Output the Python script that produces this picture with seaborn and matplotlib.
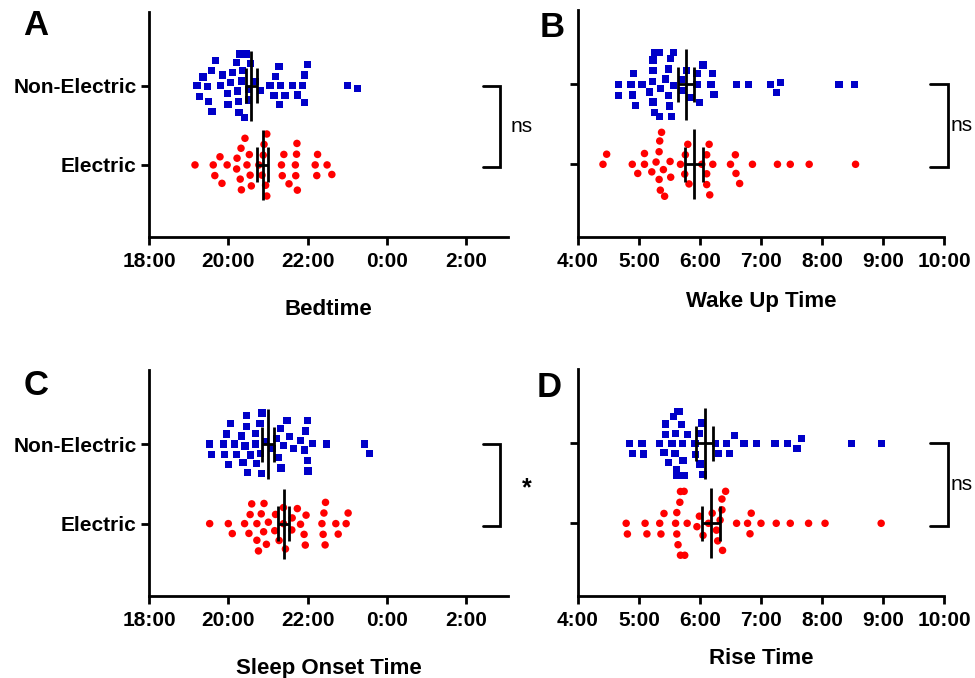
import matplotlib
matplotlib.use('Agg')
import numpy as np
import pandas as pd
import matplotlib.pyplot as plt
import matplotlib.transforms as mtransforms
from matplotlib.ticker import FuncFormatter
import seaborn as sns

# DONNÉES (heures décimales)
# =============================================
groups = ['Non-Electric', 'Electric']

bed_ne = [20.51, 20.25, 20.40, 19.67, 20.20, 19.99, 19.27, 19.57, 20.06, 20.33, 21.19,
          21.43, 22.00, 19.85, 20.56, 21.29, 21.61, 21.92, 19.21, 19.48, 20.29, 20.82,
          21.05, 23.00, 23.25, 19.81, 20.10, 20.68, 21.28, 21.74, 19.36, 20.36, 21.15,
          21.87, 19.50, 19.98, 20.23, 21.32, 20.45, 21.92, 19.59, 20.27, 20.50]
bed_el = [20.97, 20.33, 20.90, 20.30, 20.58, 21.53, 21.74, 19.79, 19.97, 20.21, 20.53,
          20.77, 21.36, 21.72, 22.23, 22.49, 19.16, 19.62, 20.22, 20.47, 19.84, 21.34,
          21.69, 22.19, 22.61, 19.66, 21.70, 22.25, 20.32, 20.55, 21.40, 20.85, 21.73,
          20.42, 20.94, 20.97, 20.88]

wake_ne = [5.35, 5.57, 5.33, 5.52, 5.26, 4.91, 5.50, 6.05, 5.78, 5.23, 6.23, 5.17, 4.67,
           4.87, 5.48, 5.70, 5.95, 7.26, 5.23, 6.18, 6.60, 6.79, 7.32, 8.28, 8.53, 4.67,
           4.89, 5.05, 5.43, 5.71, 5.95, 7.15, 5.23, 6.21, 4.94, 5.49, 5.84, 5.99, 5.22,
           5.53, 5.26, 5.56, 5.33]
wake_el = [5.40, 5.35, 6.15, 5.33, 5.82, 6.11, 5.09, 4.47, 4.89, 5.28, 5.52, 5.76, 6.03,
           6.59, 4.41, 4.98, 5.09, 5.33, 5.51, 5.68, 6.11, 6.21, 6.50, 6.65, 6.86, 7.27,
           7.48, 7.79, 8.55, 5.21, 5.34, 5.75, 6.11, 6.58, 5.80, 6.16, 5.37, 5.42]

onset_ne = [20.83, 20.05, 20.55, 20.80, 21.33, 22.01, 20.37, 21.99, 19.96, 20.46, 20.68,
            21.26, 21.65, 19.57, 20.20, 20.93, 21.92, 23.43, 19.87, 20.42, 20.68, 21.21,
            21.48, 22.13, 22.47, 19.52, 20.16, 21.12, 21.81, 23.56, 19.90, 20.46, 20.71,
            21.32, 21.54, 20.33, 21.95, 20.01, 20.49, 20.81, 21.40, 21.99, 20.85]
onset_el = [20.89, 20.76, 21.61, 22.45, 20.59, 21.39, 21.91, 20.72, 21.01, 22.41, 22.97,
            20.00, 20.52, 21.19, 21.74, 22.77, 19.53, 20.96, 21.96, 22.36, 20.10, 20.41,
            20.72, 21.28, 21.82, 22.71, 23.02, 21.17, 21.44, 22.39, 20.55, 20.83, 21.39,
            21.94, 21.60, 22.44, 20.90]

rise_ne = [5.72, 5.61, 5.70, 5.60, 5.44, 5.64, 5.56, 5.93, 6.03, 6.30, 6.49, 4.89, 5.05,
           5.41, 6.00, 7.59, 5.48, 5.63, 5.80, 6.44, 6.72, 6.93, 7.23, 7.66, 8.49, 8.97,
           4.85, 5.08, 5.33, 5.99, 7.44, 5.92, 5.54, 6.25, 6.56, 5.43, 5.66, 5.59, 5.71,
           5.61, 5.74, 6.05]
rise_el = [5.68, 5.67, 5.74, 6.42, 5.36, 5.62, 6.05, 6.29, 6.36, 6.84, 4.81, 5.10, 5.34,
           5.60, 5.75, 5.95, 6.20, 6.60, 6.78, 7.00, 7.25, 7.48, 7.78, 8.05, 8.97, 4.79,
           5.13, 5.41, 5.62, 5.79, 5.99, 6.14, 6.33, 6.82, 5.64, 6.27, 6.36, 6.37, 5.68]

bed_mean, bed_sem = [20.58, 20.87], [0.14, 0.14]
wake_mean, wake_sem = [5.77, 5.90], [0.135, 0.145]
onset_mean, onset_sem = [21.00, 21.40], [0.15, 0.14]
rise_mean, rise_sem = [6.08, 6.18], [0.14, 0.14]

# STYLE
# =============================================
sns.set_style('ticks')
plt.rcParams['font.family'] = ['Liberation Sans', 'DejaVu Sans']
plt.rcParams['font.weight'] = 'bold'
plt.rcParams['axes.labelweight'] = 'bold'
for key in ['text.color', 'axes.labelcolor', 'xtick.color', 'ytick.color', 'axes.edgecolor']:
    plt.rcParams[key] = 'black'

blue = '#0000C8'
red = '#FF0000'

fig = plt.figure(figsize=(9.75, 6.78), dpi=100)

panels = [
    # lettre, données NE, données E, moyennes, sem, xlabel, position, xlim, ticks, panneau gauche, texte, labelpad
    ('A', bed_ne, bed_el, bed_mean, bed_sem, 'Bedtime', [0.1528, 0.6504, 0.3682, 0.3319],
     (18, 27.05), [18, 20, 22, 24, 26], True, 'ns', 20),
    ('B', wake_ne, wake_el, wake_mean, wake_sem, 'Wake Up Time', [0.5928, 0.6504, 0.3754, 0.3348],
     (4, 10), [4, 5, 6, 7, 8, 9, 10], False, 'ns', 14),
    ('C', onset_ne, onset_el, onset_mean, onset_sem, 'Sleep Onset Time', [0.1528, 0.1209, 0.3682, 0.3333],
     (18, 27.05), [18, 20, 22, 24, 26], True, '*', 20),
    ('D', rise_ne, rise_el, rise_mean, rise_sem, 'Rise Time', [0.5928, 0.1209, 0.3754, 0.3348],
     (4, 10), [4, 5, 6, 7, 8, 9, 10], False, 'ns', 13),
]
letter_pos = {'A': (0.037, 0.962), 'B': (0.566, 0.960), 'C': (0.037, 0.431), 'D': (0.563, 0.429)}

for letter, ne, el, means, sems, xlabel, rect, xlim, ticks, left_panel, sig, lpad in panels:
    ax = fig.add_axes(rect)
    df = pd.DataFrame({'time': ne + el,
                       'group': [groups[0]] * len(ne) + [groups[1]] * len(el)})

    # nuage de points en essaim (bord transparent pour espacer les points)
    sns.swarmplot(data=df[df['group'] == groups[0]], x='time', y='group', order=groups,
                  marker='s', color=blue, size=5.2, linewidth=2.2, edgecolor='none',
                  ax=ax, warn_thresh=1)
    sns.swarmplot(data=df[df['group'] == groups[1]], x='time', y='group', order=groups,
                  marker='o', color=red, size=5.4, linewidth=2.0, edgecolor='none',
                  ax=ax, warn_thresh=1)

    # moyenne +/- SEM
    for i in range(2):
        m, s = means[i], sems[i]
        ax.vlines(m, i - 0.44, i + 0.44, color='black', lw=2, zorder=5)
        ax.vlines([m - s, m + s], i - 0.22, i + 0.22, color='black', lw=2, zorder=5)
        ax.hlines(i, m - s, m + s, color='black', lw=2, zorder=5)

    ax.set_xlim(*xlim)
    ax.set_ylim(1.91, -0.93)
    ax.set_xticks(ticks)
    ax.xaxis.set_major_formatter(FuncFormatter(lambda v, p: f'{int(round(v)) % 24}:00'))
    ax.set_yticks([0, 1])
    if left_panel:
        ax.set_yticklabels(groups)
    else:
        ax.set_yticklabels([])
    ax.set_ylabel('')
    ax.set_xlabel(xlabel, fontsize=16, fontweight='bold', labelpad=lpad)
    ax.tick_params(axis='both', length=6, width=2, color='black')
    ax.tick_params(axis='x', labelsize=15, pad=5)
    ax.tick_params(axis='y', labelsize=15, pad=3)
    sns.despine(ax=ax)
    for sp in ['left', 'bottom']:
        ax.spines[sp].set_linewidth(2)
        ax.spines[sp].set_color('black')

    # crochet de significativité
    trans = mtransforms.blended_transform_factory(ax.transAxes, ax.transData)
    if left_panel:
        bx, tx, nx = 0.978, 0.930, 1.008
    else:
        bx, tx, nx = 1.010, 0.962, 1.019
    ax.plot([tx, bx, bx, tx], [0, 0, 1.03, 1.03], color='black', lw=2,
            transform=trans, clip_on=False, solid_joinstyle='miter')
    if sig == '*':
        ax.text(1.053, 0.55, '*', transform=trans, ha='center', va='center',
                fontsize=18, fontweight='bold')
    else:
        ax.text(nx, 0.52, sig, transform=trans, ha='left', va='center',
                fontsize=15, fontweight='normal')

    fig.text(letter_pos[letter][0], letter_pos[letter][1], letter, ha='center', va='center',
             fontsize=25, fontweight='bold')

fig.savefig('out.png', dpi=100)
